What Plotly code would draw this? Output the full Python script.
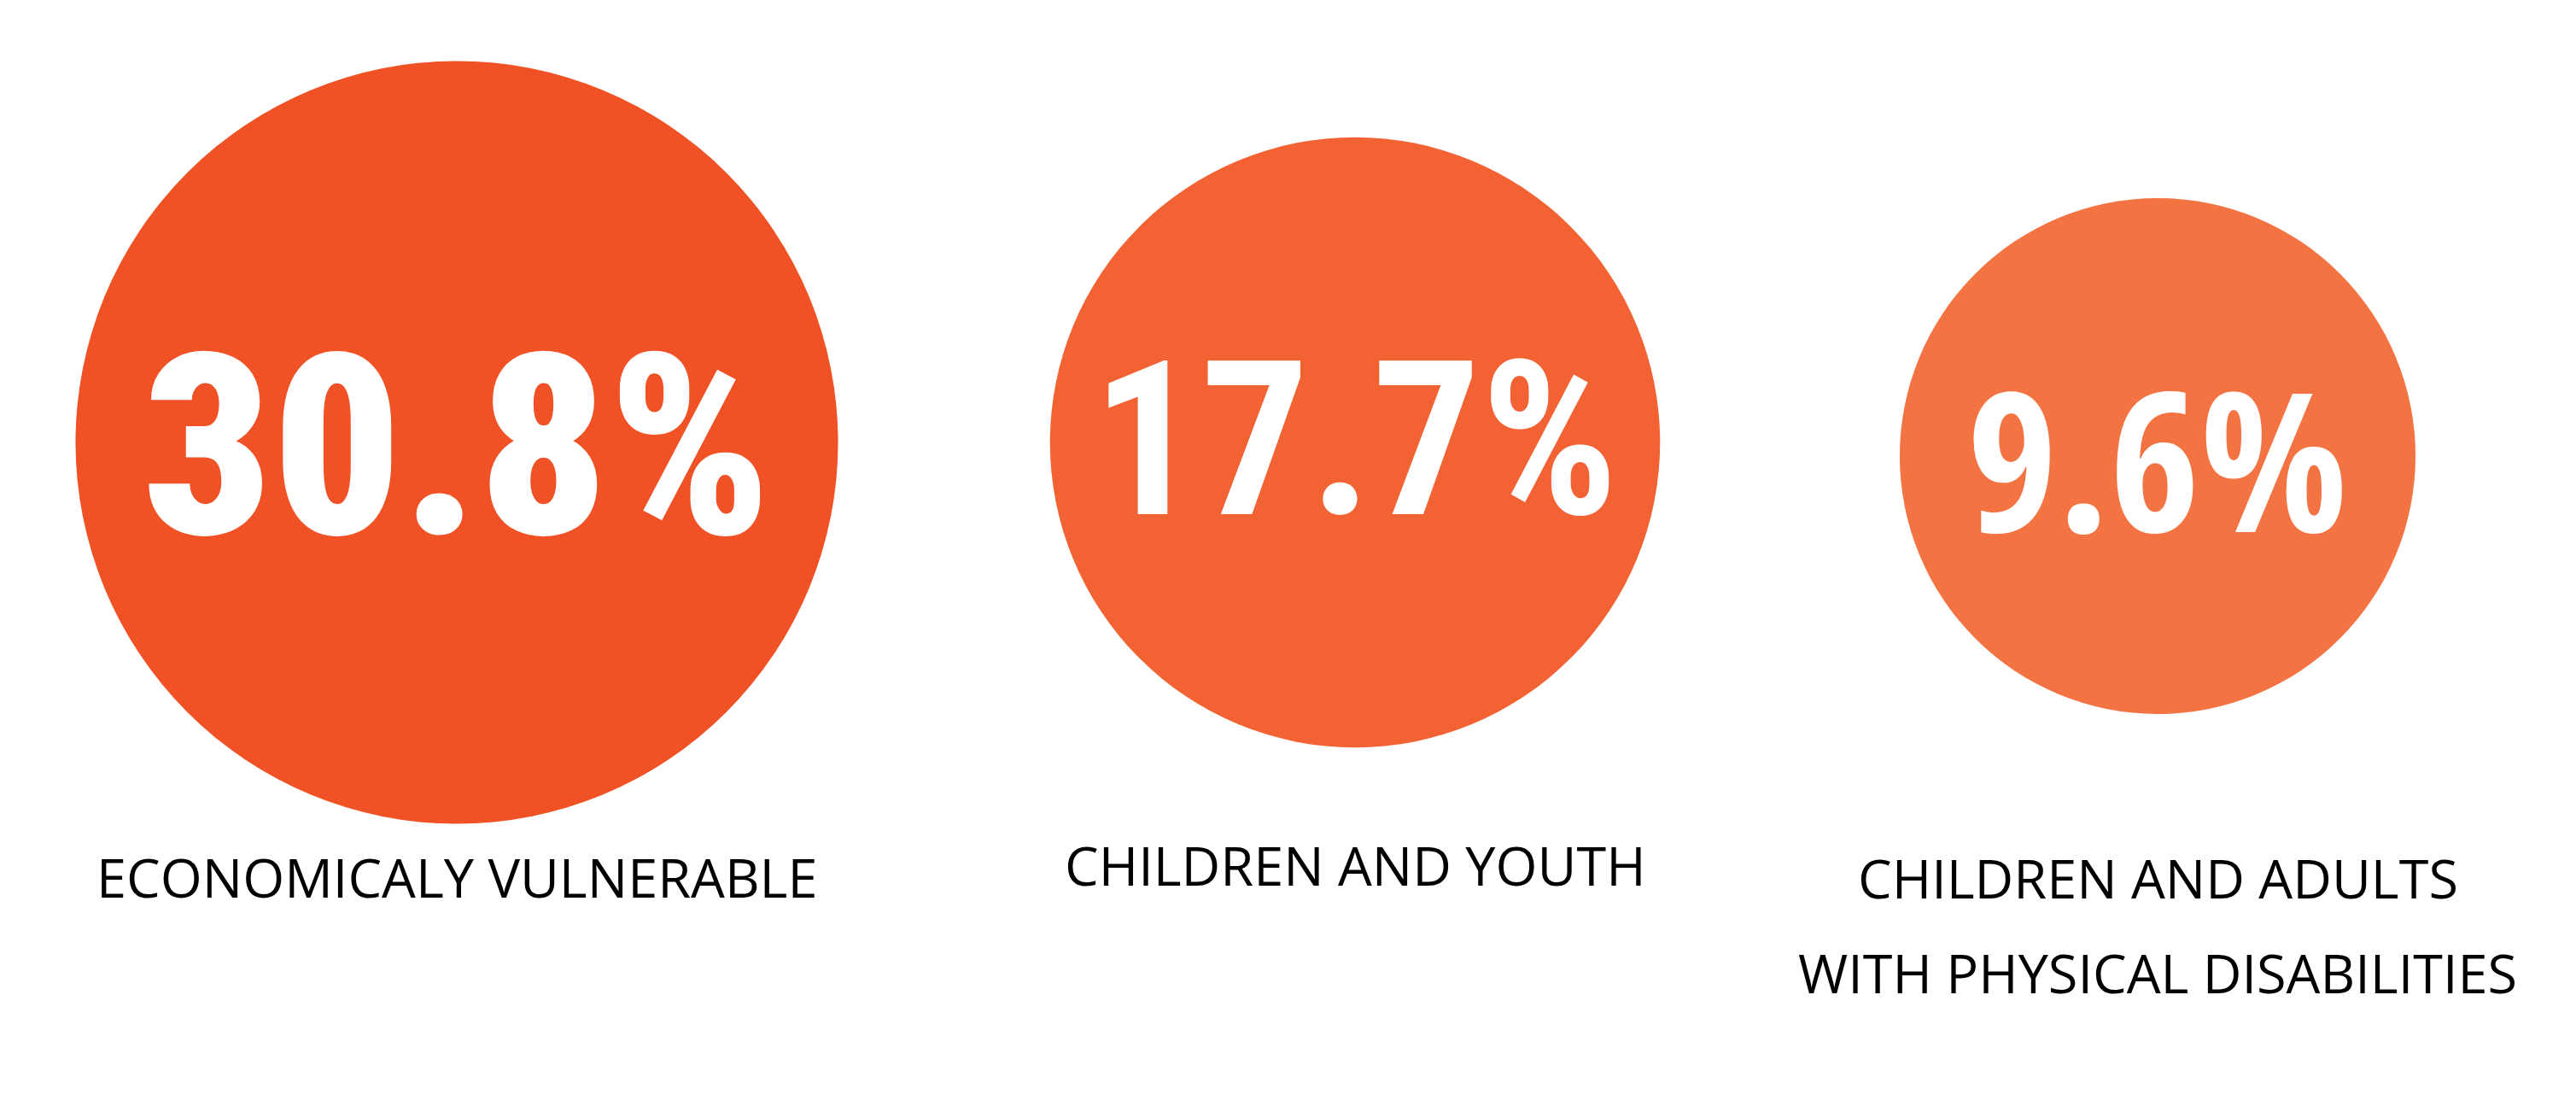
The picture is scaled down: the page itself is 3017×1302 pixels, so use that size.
import plotly.graph_objects as go

# ---- data ----
categories = ["ECONOMICALY VULNERABLE", "CHILDREN AND YOUTH",
              "CHILDREN AND ADULTS\nWITH PHYSICAL DISABILITIES"]
values = [30.8, 17.7, 9.6]
value_labels = ["30.8%", "17.7%", "9.6%"]

# ---- layout / style ----
W, H = 3017, 1302
colors = ["#F05125", "#F26232", "#F37342"]
panel_cx = [535, 1587, 2527]      # panel centres (px)
panel_cy = [518, 518, 534]
label_cy = [1026, 1012, 1027]     # first label line centre (px)
label_gap = 111
num_fonts = ["Roboto Condensed, sans-serif", "Roboto Condensed, sans-serif",
             "Open Sans Condensed, sans-serif"]
num_weights = [900, 700, 700]
num_sizes = [297, 252, 228]
num_shift = [-5, 2, 0]
HALF = 460
LAB_FONT = "Open Sans, Noto Sans, sans-serif"


def radius(v):
    # linear size scale fitted to the picture
    return 236.6 + 6.816 * v


fig = go.Figure()
annotations = []
layout_axes = {}
for i, (cat, v, lab) in enumerate(zip(categories, values, value_labels)):
    n = "" if i == 0 else str(i + 1)
    fig.add_trace(go.Scatter(
        x=[cat], y=[v], mode="markers",
        marker=dict(size=2 * radius(v), color=colors[i], line=dict(width=0)),
        cliponaxis=False, hoverinfo="skip", showlegend=False,
        xaxis="x" + n, yaxis="y" + n,
    ))
    layout_axes["xaxis" + n] = dict(
        domain=[(panel_cx[i] - HALF) / W, (panel_cx[i] + HALF) / W],
        type="category", visible=False, anchor="y" + n, fixedrange=True)
    layout_axes["yaxis" + n] = dict(
        domain=[(H - panel_cy[i] - HALF) / H, (H - panel_cy[i] + HALF) / H],
        range=[v - 1, v + 1], visible=False, anchor="x" + n, fixedrange=True)
    annotations.append(dict(
        x=cat, y=v, xref="x" + n, yref="y" + n, text=lab, showarrow=False,
        xanchor="center", yanchor="middle", yshift=num_shift[i],
        font=dict(family=num_fonts[i], size=num_sizes[i], color="white",
                  weight=num_weights[i])))
    for j, line in enumerate(cat.split("\n")):
        annotations.append(dict(
            x=cat, xref="x" + n, y=1 - (label_cy[i] + j * label_gap) / H, yref="paper",
            text=line, showarrow=False, xanchor="center", yanchor="middle",
            font=dict(family=LAB_FONT, size=63, color="#000000")))

fig.update_layout(
    width=W, height=H, margin=dict(l=0, r=0, t=0, b=0),
    paper_bgcolor="white", plot_bgcolor="rgba(0,0,0,0)",
    annotations=annotations, **layout_axes)

fig.write_html("out.html", config={"displayModeBar": False},
               post_script="document.body.style.margin='0';document.body.style.overflow='hidden';")
